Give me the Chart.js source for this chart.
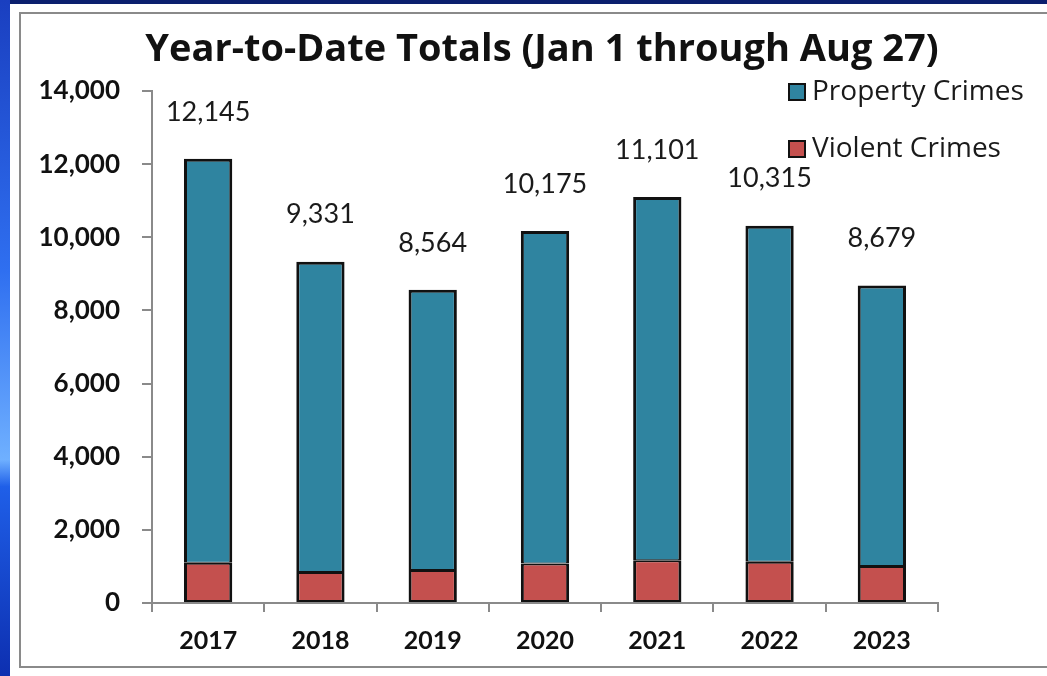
<!DOCTYPE html>
<html>
<head>
<meta charset="utf-8">
<script src="https://cdn.jsdelivr.net/npm/chart.js@4.4.0/dist/chart.umd.min.js"></script>
<style>
    html, body { margin: 0; padding: 0; background: #ffffff; }
    body { width: 1047px; height: 676px; position: relative; overflow: hidden; }
    .topband { position: absolute; left: 0; top: 0; width: 1047px; height: 4px; background: #0b1f6e; }
    .leftband { position: absolute; left: 0; top: 0; width: 10px; height: 676px;
        background: linear-gradient(to bottom, #1a3fc0 0%, #2f6ff0 40%, #6fb0ff 68%, #1f5fe8 72%, #0d2fb0 100%); }
    .box { position: absolute; left: 19px; top: 12px; width: 1040px; height: 656px; border: 2px solid #8a8a8a; box-sizing: border-box; }
    #wrap { position: absolute; left: 0; top: 0; width: 1047px; height: 676px; }
</style>
</head>
<body>
<div class="topband"></div>
<div class="leftband"></div>
<div class="box"></div>
<div id="wrap"><canvas id="crimeChart"></canvas></div>
<script>
    const years = ['2017', '2018', '2019', '2020', '2021', '2022', '2023'];
    const totals = [12145, 9331, 8564, 10175, 11101, 10315, 8679];
    const violentCrimes = [1100, 850, 900, 1080, 1170, 1130, 1010];
    const propertyCrimes = [11045, 8481, 7664, 9095, 9931, 9185, 7669];
    const yTicks = [0, 2000, 4000, 6000, 8000, 10000, 12000, 14000];
    const chartTitle = 'Year-to-Date Totals (Jan 1 through Aug 27)';

    const tealColor = '#2f84a0';
    const redColor = '#c4504e';
    const fontName = 'Lato, "Open Sans", sans-serif';

    // title, totals above each stack
    const totalLabels = {
        id: 'totalLabels',
        afterDatasetsDraw(chart) {
            const ctx = chart.ctx;
            const meta = chart.getDatasetMeta(1);
            ctx.save();
            ctx.textAlign = 'center';
            ctx.textBaseline = 'middle';
            ctx.fillStyle = '#111111';
            ctx.font = 'bold 38px "Open Sans", sans-serif';
            ctx.fillText(chartTitle, 542, 50);
            ctx.font = '400 27px ' + fontName;
            ctx.fillStyle = '#1a1a1a';
            meta.data.forEach((bar, i) => {
                ctx.fillText(totals[i].toLocaleString('en-US'), bar.x, bar.y - 47);
            });
            ctx.restore();
        }
    };

    // legend in the top right corner
    const cornerLegend = {
        id: 'cornerLegend',
        afterDraw(chart) {
            const ctx = chart.ctx;
            const items = [
                { label: chart.data.datasets[1].label, color: tealColor, y: 92 },
                { label: chart.data.datasets[0].label, color: redColor, y: 149 }
            ];
            ctx.save();
            ctx.font = '400 28px "Open Sans", sans-serif';
            ctx.textBaseline = 'middle';
            ctx.textAlign = 'left';
            items.forEach(item => {
                ctx.fillStyle = item.color;
                ctx.fillRect(789, item.y - 8, 16, 16);
                ctx.strokeStyle = '#111';
                ctx.lineWidth = 2;
                ctx.strokeRect(789, item.y - 8, 16, 16);
                ctx.fillStyle = '#1a1a1a';
                ctx.fillText(item.label, 812, item.y);
            });
            ctx.restore();
        }
    };

    new Chart(document.getElementById('crimeChart'), {
        type: 'bar',
        data: {
            labels: years,
            datasets: [{
                label: 'Violent Crimes',
                data: violentCrimes,
                backgroundColor: redColor,
                borderColor: '#111111',
                borderWidth: { top: 2, left: 3, right: 3, bottom: 2 },
                borderSkipped: false,
                categoryPercentage: 1,
                barPercentage: 0.43
            }, {
                label: 'Property Crimes',
                data: propertyCrimes,
                backgroundColor: tealColor,
                borderColor: '#111111',
                borderWidth: { top: 3, left: 3, right: 3, bottom: 1 },
                borderSkipped: false,
                categoryPercentage: 1,
                barPercentage: 0.43
            }]
        },
        options: {
            responsive: true,
            maintainAspectRatio: false,
            animation: false,
            layout: {
                padding: { left: 20, right: 109, top: 91, bottom: 13 }
            },
            plugins: {
                legend: { display: false },
                tooltip: { enabled: false },
                title: { display: false }
            },
            scales: {
                x: {
                    stacked: true,
                    offset: true,
                    afterFit: (scale) => { scale.height = 60; },
                    border: { display: true, color: '#8a8a8a', width: 2 },
                    grid: {
                        display: true,
                        drawOnChartArea: false,
                        drawTicks: true,
                        tickLength: 9,
                        offset: true,
                        color: '#8a8a8a',
                        lineWidth: 2
                    },
                    ticks: {
                        color: '#111111',
                        padding: 14,
                        font: { family: fontName, size: 25, weight: 'bold' }
                    }
                },
                y: {
                    stacked: true,
                    min: 0,
                    max: 14000,
                    afterFit: (scale) => { scale.width = 132; },
                    afterBuildTicks: (scale) => {
                        scale.ticks = yTicks.map(v => ({ value: v }));
                    },
                    border: { display: true, color: '#8a8a8a', width: 2 },
                    grid: {
                        display: true,
                        drawOnChartArea: false,
                        drawTicks: true,
                        tickLength: 10,
                        color: '#8a8a8a',
                        lineWidth: 2
                    },
                    ticks: {
                        color: '#111111',
                        padding: 22,
                        font: { family: fontName, size: 26, weight: 'bold' },
                        callback: (v) => v.toLocaleString('en-US')
                    }
                }
            }
        },
        plugins: [totalLabels, cornerLegend]
    });
</script>
</body>
</html>
